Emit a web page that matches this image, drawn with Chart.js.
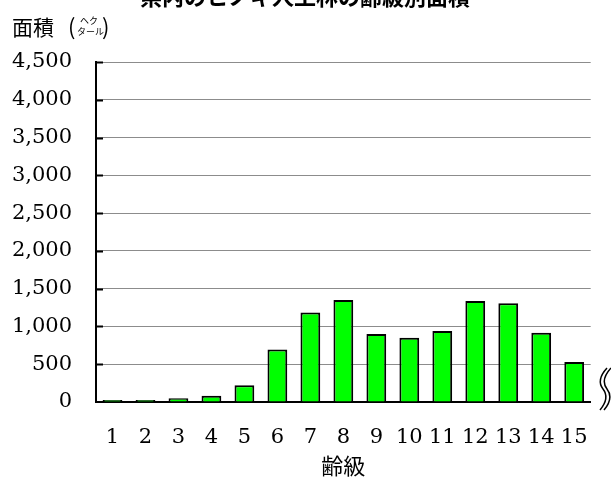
<!DOCTYPE html>
<html lang="ja">
<head>
<meta charset="utf-8">
<title>県内のヒノキ人工林の齢級別面積</title>
<script src="https://cdn.jsdelivr.net/npm/chart.js@4/dist/chart.umd.min.js"></script>
<style>
  html, body { margin: 0; padding: 0; background: #fff; }
  #chart { display: block; }
</style>
</head>
<body>
<canvas id="chart" width="611" height="480"></canvas>
<script>
// values (ha per age class)
const chartTitle = '県内のヒノキ人工林の齢級別面積';
const ageClasses = ['1', '2', '3', '4', '5', '6', '7', '8', '9', '10', '11', '12', '13', '14', '15'];
const areaHa = [28, 28, 50, 82, 222, 695, 1185, 1350, 900, 852, 940, 1336, 1308, 917, 530];
const yMax = 4500;
const yStep = 500;
const xTitle = '齢級';

const numFont = 'DejaVu Serif';
const jpFont = '"Noto Sans CJK JP", "Noto Sans", sans-serif';

// title (clipped at the top), y axis unit, inner ticks and the break mark
const decorations = {
    id: 'decorations',
    afterDraw(chart) {
        const ctx = chart.ctx;
        const area = chart.chartArea;
        const yScale = chart.scales.y;

        ctx.save();
        ctx.fillStyle = '#000';
        ctx.font = 'bold 22px ' + jpFont;
        ctx.textAlign = 'center';
        ctx.textBaseline = 'alphabetic';
        ctx.fillText(chartTitle, 305, 5);

        // 面積（ヘクタール）
        ctx.textAlign = 'left';
        ctx.textBaseline = 'middle';
        ctx.font = '21px ' + jpFont;
        ctx.fillText('面積', 12, 27);
        ctx.font = '22px ' + jpFont;
        ctx.fillText('(', 68, 27);
        ctx.fillText(')', 102, 27);
        ctx.font = '9px ' + jpFont;
        ctx.fillText('ヘク', 80, 21);
        ctx.fillText('タール', 77, 32);

        // short ticks pointing into the plot
        ctx.strokeStyle = '#000';
        ctx.lineWidth = 2;
        for (let v = yStep; v <= yMax; v += yStep) {
            const y = Math.round(yScale.getPixelForValue(v)) + 0.5;
            ctx.beginPath();
            ctx.moveTo(area.left, y);
            ctx.lineTo(area.left + 7, y);
            ctx.stroke();
        }

        // axis break mark at the right end
        ctx.lineWidth = 1.5;
        [600, 604].forEach(x0 => {
            ctx.beginPath();
            ctx.moveTo(x0 + 7, 368);
            ctx.quadraticCurveTo(x0 - 4, 380, x0 + 3, 389);
            ctx.quadraticCurveTo(x0 + 10, 398, x0, 410);
            ctx.stroke();
        });
        ctx.restore();
    }
};

new Chart(document.getElementById('chart'), {
    type: 'bar',
    data: {
        labels: ageClasses,
        datasets: [{
            data: areaHa,
            backgroundColor: '#00ff00',
            borderColor: '#000',
            borderWidth: 2,
            borderSkipped: 'bottom',
            categoryPercentage: 1,
            barPercentage: 0.6
        }]
    },
    options: {
        responsive: false,
        animation: false,
        layout: { padding: { top: 62, right: 13, left: 0, bottom: 0 } },
        plugins: {
            legend: { display: false },
            tooltip: { enabled: false },
            title: { display: false }
        },
        scales: {
            x: {
                grid: { display: false, drawTicks: false },
                border: { color: '#000', width: 2 },
                ticks: {
                    color: '#000',
                    font: { family: numFont, size: 21 },
                    padding: 23,
                    autoSkip: false,
                    maxRotation: 0
                },
                title: {
                    display: true,
                    text: xTitle,
                    color: '#000',
                    font: { family: jpFont, size: 22 },
                    padding: { top: 0, bottom: 1 }
                },
                afterFit(scale) { scale.height = 78; }
            },
            y: {
                min: 0,
                max: yMax,
                grid: { color: '#8c8c8c', lineWidth: 1, drawTicks: false },
                border: { color: '#000', width: 2 },
                ticks: {
                    stepSize: yStep,
                    color: '#000',
                    font: { family: numFont, size: 21 },
                    padding: 24,
                    callback: v => v.toLocaleString('en-US')
                },
                afterFit(scale) { scale.width = 96; }
            }
        }
    },
    plugins: [decorations]
});
</script>
</body>
</html>
